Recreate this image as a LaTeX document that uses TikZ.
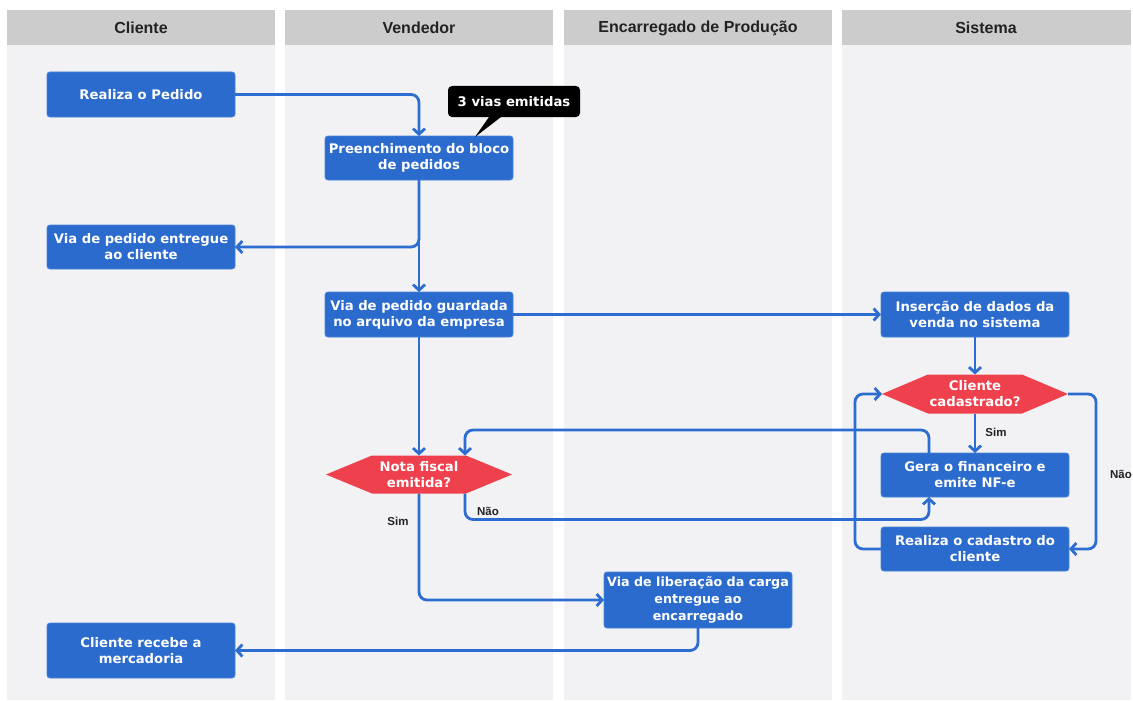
\documentclass[tikz,border=0pt]{standalone}
\usepackage{fontspec}
\usetikzlibrary{arrows.meta,calc}
\newfontfamily\dvs{DejaVu Sans}
\newfontfamily\lbs{Liberation Sans}
\definecolor{hdr}{HTML}{CCCCCC}
\definecolor{lane}{HTML}{F2F2F4}
\definecolor{nblue}{HTML}{2B6BCD}
\definecolor{nbord}{HTML}{4A82D8}
\definecolor{cblue}{HTML}{2D6DD2}
\definecolor{hexred}{HTML}{EF414D}
\definecolor{txt}{HTML}{222222}
\tikzset{
  lanebg/.style={fill=lane},
  lanehd/.style={fill=hdr},
  hdtext/.style={font=\lbs\bfseries\fontsize{16}{18}\selectfont, text=txt},
  box/.style={rectangle, rounded corners=3pt, fill=nblue, draw=nbord, line width=0.8pt,
    minimum width=188pt, minimum height=44pt, inner sep=0pt, outer sep=0pt,
    align=center, text=white, font=\dvs\bfseries\fontsize{13.2}{16}\selectfont},
  hex/.style={rectangle, minimum width=186pt, minimum height=38pt, inner sep=0pt, outer sep=0pt,
    align=center, text=white, font=\dvs\bfseries\fontsize{13.2}{16}\selectfont,
    path picture={\fill[hexred] (path picture bounding box.west)
      -- ([xshift=46pt]path picture bounding box.north west)
      -- ([xshift=-46pt]path picture bounding box.north east)
      -- (path picture bounding box.east)
      -- ([xshift=-46pt]path picture bounding box.south east)
      -- ([xshift=46pt]path picture bounding box.south west) -- cycle;}},
  callout/.style={rectangle, rounded corners=4pt, fill=black, minimum width=132pt,
    minimum height=31pt, inner sep=0pt, outer sep=0pt, text=white,
    font=\dvs\bfseries\fontsize{13.2}{16}\selectfont},
  conn/.style={draw=cblue, line width=2.8pt, rounded corners=8pt,
    -{Straight Barb[length=5.5pt,width=12pt]}},
  lbl/.style={font=\lbs\bfseries\fontsize{11.5}{13}\selectfont, text=txt, inner sep=0pt}
}
\begin{document}
\begin{tikzpicture}[x=1pt,y=-1pt]
\useasboundingbox (0,0) rectangle (1133,701);
\fill[white] (0,0) rectangle (1133,701);
% lanes
\fill[lanebg] (7,45) rectangle (275,700);
\fill[lanebg] (285,45) rectangle (553,700);
\fill[lanebg] (564,45) rectangle (832,700);
\fill[lanebg] (842,45) rectangle (1131,700);
\fill[lanehd] (7,10) rectangle (275,45);
\fill[lanehd] (285,10) rectangle (553,45);
\fill[lanehd] (564,10) rectangle (832,45);
\fill[lanehd] (842,10) rectangle (1131,45);
\node[hdtext] (h1) at (141,28) {Cliente};
\node[hdtext] (h2) at (419,28) {Vendedor};
\node[hdtext] (h3) at (698,28) {Encarregado de Produção};
\node[hdtext] (h4) at (986,28) {Sistema};
% nodes
\node[box, minimum height=45pt] (A) at (141,94.5) {Realiza o Pedido};
\node[box] (B) at (419,158) {Preenchimento do bloco\\de pedidos};
\node[box] (C) at (141,247) {Via de pedido entregue\\ao cliente};
\node[box, minimum height=45pt] (D) at (419,314.5) {Via de pedido guardada\\no arquivo da empresa};
\node[box, minimum height=45pt] (E) at (975,314.5) {Inserção de dados da\\venda no sistema};
\node[hex, minimum height=39pt] (F) at (975,394) {Cliente\\cadastrado?};
\node[box] (G) at (975,475) {Gera o financeiro e\\emite NF-e};
\node[box] (H) at (975,549) {Realiza o cadastro do\\cliente};
\node[hex] (I) at (419,474.5) {Nota fiscal\\emitida?};
\node[box, minimum height=56pt, font=\dvs\bfseries\fontsize{12.7}{16.8}\selectfont] (J) at (698,600) {Via de liberação da carga\\entregue ao\\encarregado};
\node[box, minimum height=55pt] (K) at (141,650.5) {Cliente recebe a\\mercadoria};
% callout
\node[callout] (L) at (514,101.5) {3 vias emitidas};
\fill[black] ([xshift=-25pt]L.south) -- ([xshift=-13pt]L.south) -- ([xshift=-39pt,yshift=-20pt]L.south) -- cycle;
% connectors
\draw[conn] (A.east) -| (B.north);
\draw[conn] (B.south) -- (D.north);
\draw[conn] (B.south) |- (C.east);
\draw[conn] (D.east) -- (E.west);
\draw[conn] (D.south) -- (I.north);
\draw[conn] (E.south) -- (F.north);
\draw[conn] (F.south) -- (G.north);
\draw[conn] (F.east) -- ++(28,0) |- (H.east);
\draw[conn] (H.west) -- ++(-26,0) |- (F.west);
\draw[conn] ([xshift=-46pt]G.north) -- ++(0,-23) -| ([xshift=46pt]I.north);
\draw[conn] ([xshift=46pt]I.south) -- ++(0,26) -| ([xshift=-46pt]G.south);
\draw[conn] (I.south) |- (J.west);
\draw[conn] (J.south) |- (K.east);
% labels
\node[lbl] (s1) at (996,432) {Sim};
\node[lbl] (n1) at (1121,474) {Não};
\node[lbl] (n2) at (488,511) {Não};
\node[lbl] (s2) at (398,521) {Sim};
\end{tikzpicture}
\end{document}
